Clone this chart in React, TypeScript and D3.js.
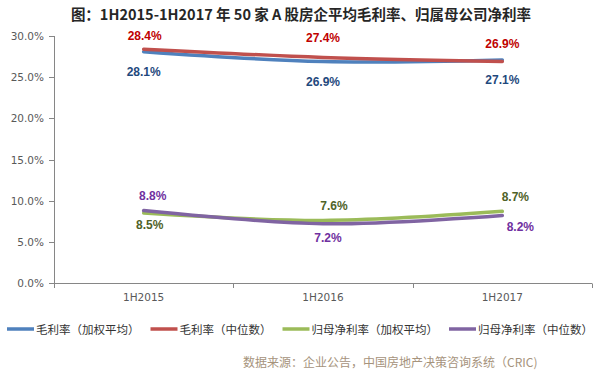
import React from "react";
import * as d3 from "d3";

const title = "图：1H2015-1H2017 年 50 家 A 股房企平均毛利率、归属母公司净利率";
const categories = ["1H2015", "1H2016", "1H2017"];
const yTicks = [0, 0.05, 0.1, 0.15, 0.2, 0.25, 0.3];
const seriesNames = ["毛利率（加权平均）", "毛利率（中位数）", "归母净利率（加权平均）", "归母净利率（中位数）"];
const grossWeighted = [0.281, 0.269, 0.271];
const grossMedian = [0.284, 0.274, 0.269];
const netWeighted = [0.085, 0.076, 0.087];
const netMedian = [0.088, 0.072, 0.082];
const source = "数据来源：企业公告，中国房地产决策咨询系统（CRIC)";

const seriesValues = [grossWeighted, grossMedian, netWeighted, netMedian];
const lineColors = ["#4F81BD", "#C0504D", "#9BBB59", "#8064A2"];
const labelColors = ["#1F497D", "#C00000", "#4F6228", "#7030A0"];
// label offsets (style): [dx, dy] per point
const labelOffsets = [
  [[0, 20], [0, 20], [0, 20]],
  [[1, -13], [0, -19], [0, -18]],
  [[6, 12], [11, -14], [13, -14]],
  [[9, -15], [5, 14], [18, 12]],
];
const legendFont = 11.5;

export default function App() {
  const W = 601, H = 376;
  const x = d3.scaleBand<string>().domain(categories).range([54, 592]).padding(0);
  const y = d3.scaleLinear().domain([0, 0.3]).range([283, 36]);
  const cx = (c: string) => (x(c) as number) + x.bandwidth() / 2;
  const line = d3
    .line<number>()
    .x((_, i) => cx(categories[i]))
    .y((d) => y(d))
    .curve(d3.curveCatmullRom.alpha(0.5));
  const fmt = d3.format(".1%");
  const axisColor = "#868686";
  const numFont = "'DejaVu Sans', sans-serif";
  const cjk = "'Noto Sans CJK SC', sans-serif";
  const bounds = [...categories.map((c) => x(c) as number), 592];

  // sequential legend layout
  const legendItems: { lx: number; tx: number }[] = [];
  let cur = 7;
  seriesNames.forEach((n) => {
    legendItems.push({ lx: cur, tx: cur + 29 });
    cur += 29 + n.length * legendFont + 11;
  });

  return (
    <svg width={W} height={H} style={{ position: "absolute", left: 0, top: 0, background: "#fff" }}>
      <text x={301} y={13} textAnchor="middle" dominantBaseline="central" fontFamily={cjk} fontWeight="bold" fontSize={14.5} fill="#262626">
        {title}
      </text>
      {/* y axis */}
      <line x1={54.5} x2={54.5} y1={y(0.3)} y2={y(0)} stroke={axisColor} />
      {yTicks.map((t) => (
        <g key={t}>
          <line x1={49} x2={54.5} y1={Math.round(y(t)) + 0.5} y2={Math.round(y(t)) + 0.5} stroke={axisColor} />
          <text x={44} y={y(t)} textAnchor="end" dominantBaseline="central" fontFamily={numFont} fontSize={10.5} fill="#595959">
            {fmt(t)}
          </text>
        </g>
      ))}
      {/* x axis */}
      <line x1={54} x2={592} y1={283.5} y2={283.5} stroke={axisColor} />
      {bounds.map((b, i) => (
        <line key={i} x1={Math.round(b) + 0.5} x2={Math.round(b) + 0.5} y1={283.5} y2={288} stroke={axisColor} />
      ))}
      {categories.map((c) => (
        <text key={c} x={cx(c)} y={297} textAnchor="middle" dominantBaseline="central" fontFamily={numFont} fontSize={10.5} fill="#595959">
          {c}
        </text>
      ))}
      {/* lines */}
      {seriesValues.map((vals, s) => (
        <path key={s} d={line(vals) || ""} fill="none" stroke={lineColors[s]} strokeWidth={3.5} strokeLinecap="round" />
      ))}
      {/* labels */}
      {seriesValues.map((vals, s) =>
        vals.map((v, i) => (
          <text
            key={s + "-" + i}
            x={cx(categories[i]) + labelOffsets[s][i][0]}
            y={y(v) + labelOffsets[s][i][1]}
            textAnchor="middle"
            dominantBaseline="central"
            fontFamily="'Liberation Sans', Arial, sans-serif"
            fontWeight="bold"
            fontSize={12}
            fill={labelColors[s]}
          >
            {fmt(v)}
          </text>
        ))
      )}
      {/* legend */}
      {seriesNames.map((n, s) => (
        <g key={n}>
          <line x1={legendItems[s].lx} x2={legendItems[s].lx + 27} y1={329} y2={329} stroke={lineColors[s]} strokeWidth={3.5} />
          <text x={legendItems[s].tx} y={329} dominantBaseline="central" fontFamily={cjk} fontSize={legendFont} fill="#333">
            {n}
          </text>
        </g>
      ))}
      <text x={243} y={361} dominantBaseline="central" fontFamily={cjk} fontSize={12} fill="#A6937C">
        {source}
      </text>
    </svg>
  );
}
